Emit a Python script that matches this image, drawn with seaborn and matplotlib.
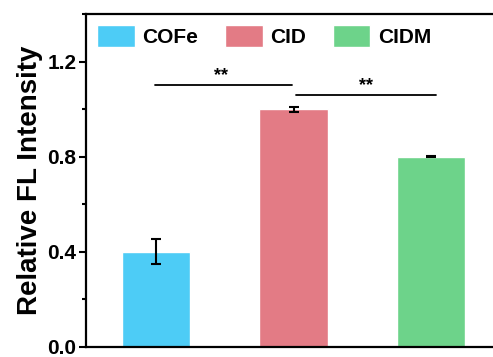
import numpy as np
import pandas as pd
import matplotlib.pyplot as plt
import seaborn as sns
from matplotlib.ticker import MultipleLocator

samples = ['COFe', 'CID', 'CIDM']
values = [0.40, 1.00, 0.80]
errors = [0.052, 0.010, 0.003]
colors = ['#4DCCF6', '#E37B85', '#6DD38A']

sns.set_style('ticks')
plt.rcParams['font.family'] = ['Liberation Sans', 'DejaVu Sans']
plt.rcParams['font.weight'] = 'bold'
plt.rcParams['text.color'] = 'black'
plt.rcParams['axes.labelcolor'] = 'black'
plt.rcParams['axes.edgecolor'] = 'black'
plt.rcParams['ytick.color'] = 'black'
plt.rcParams['xtick.color'] = 'black'

df = pd.DataFrame({'sample': samples, 'value': values, 'err': errors})

fig = plt.figure(figsize=(4.93, 3.57), dpi=100)
ax = fig.add_axes([86 / 493, 10 / 357, 415 / 493, 333 / 357])

sns.barplot(data=df, x='sample', y='value', hue='sample', palette=colors,
            width=0.5, ax=ax, legend=True, saturation=1)
ax.errorbar(np.arange(len(samples)), df['value'], yerr=df['err'], fmt='none',
            ecolor='black', elinewidth=1.5, capsize=3.5, capthick=1.5)

# significance brackets
ax.plot([-0.01, 0.99], [1.10, 1.10], color='black', lw=1.3)
ax.text(0.47, 1.105, '**', ha='center', va='bottom', fontsize=13)
ax.plot([1.02, 2.04], [1.06, 1.06], color='black', lw=1.3)
ax.text(1.53, 1.065, '**', ha='center', va='bottom', fontsize=13)

ax.set_ylim(0, 1.4)
ax.set_xlim(-0.51, 2.51)
ax.yaxis.set_minor_locator(MultipleLocator(0.2))
ax.set_yticks([0.0, 0.4, 0.8, 1.2])
ax.set_yticklabels(['0.0', '0.4', '0.8', '1.2'], fontsize=15, fontweight='bold')
ax.set_xticks([])
ax.set_xlabel('')
ax.set_ylabel('Relative FL Intensity', fontsize=20, fontweight='bold', labelpad=3)
ax.tick_params(axis='y', which='major', length=5, width=1.5, direction='out', pad=2)
ax.tick_params(axis='y', which='minor', length=3, width=1.5, direction='out')
for side in ax.spines:
    ax.spines[side].set_linewidth(1.6)
    ax.spines[side].set_visible(True)

h, l = ax.get_legend_handles_labels()
ax.legend(h, l, loc='upper left', ncol=3, frameon=False,
          prop={'size': 15, 'weight': 'bold'},
          handlelength=1.8, handleheight=1.2, handletextpad=0.35,
          columnspacing=1.3, borderaxespad=0.15, bbox_to_anchor=(0.0, 1.0))

fig.savefig('out.png', dpi=100)
